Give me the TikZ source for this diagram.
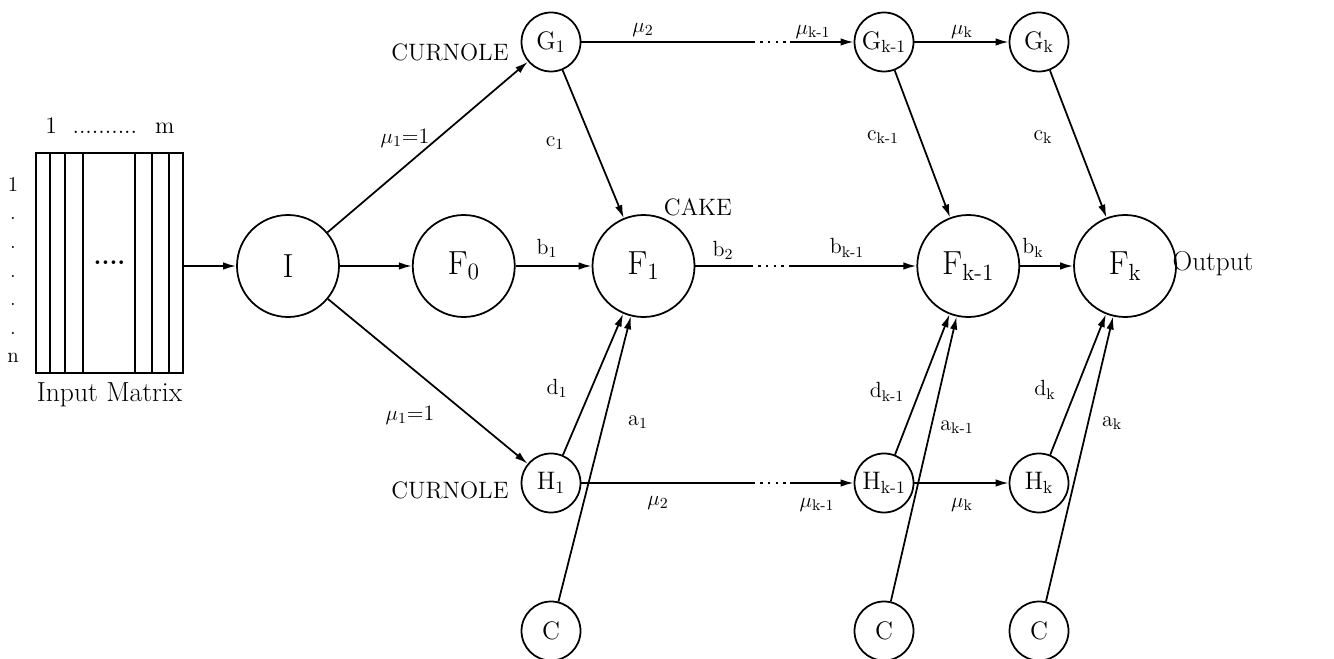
\documentclass[tikz,border=0pt]{standalone}
\usepackage{tikz}
\usetikzlibrary{positioning, arrows.meta}

\begin{document}
\begin{tikzpicture}[
        font=\large,
        >={Latex[length=2.6mm, width=1.5mm]},
        big/.style={
            draw,
            circle,
            line width=1pt,
            inner sep=0pt,
            minimum size=2.04cm,
            font={\fontsize{19}{22}\selectfont}
        },
        small/.style={
            draw,
            circle,
            line width=1pt,
            inner sep=0pt,
            minimum size=1.18cm,
            font=\Large
        },
        lbl/.style={
            inner sep=1pt,
            font={\fontsize{12.5}{15}\selectfont}
        },
        caps/.style={
            font={\fontsize{13.5}{16}\selectfont}
        },
        link/.style={
            ->,
            line width=1pt
        },
        dotrun/.style={
            line width=1.4pt,
            shorten <=3pt,
            dash pattern=on 1.4pt off 3pt
        }
    ]
    \fill[white] (0,0) rectangle (26.68,13.16);
    \useasboundingbox (0,0) rectangle (26.68,13.16);

    % input matrix
    \node[draw, line width=1pt, minimum width=2.94cm, minimum height=4.4cm, inner sep=0pt] (mat) at (2.19,7.90) {\Large\bfseries ....};
    \draw[line width=1pt] (1.00,5.70) -- (1.00,10.10) (1.30,5.70) -- (1.30,10.10) (1.66,5.70) -- (1.66,10.10)
        (2.70,5.70) -- (2.70,10.10) (3.04,5.70) -- (3.04,10.10) (3.38,5.70) -- (3.38,10.10);
    \node[font={\fontsize{13.5}{16}\selectfont}] (cols) at (2.2,10.64) {1 \ .......... \ m};
    \node[align=center, font={\fontsize{12}{16.3}\selectfont}] (rows) at (0.26,7.76) {1\\.\\.\\.\\.\\.\\n};
    \node[below=0.06cm of mat, font={\fontsize{15.7}{18}\selectfont}] (mlabel) {Input Matrix};

    % main row
    \node[big] (I) at (5.76,7.84) {I};
    \node[big, right=1.44cm of I] (F0) {F\textsubscript{0}};
    \node[big, right=1.52cm of F0] (F1) {F\textsubscript{1}};
    \node[big, right=4.42cm of F1] (Fk1) {F\textsubscript{k-1}};
    \node[big, right=1.06cm of Fk1] (Fk) {F\textsubscript{k}};

    % upper and lower rows
    \node[small] (G1) at (11.02,12.32) {G\textsubscript{1}};
    \node[small] (Gk1) at (17.68,12.32) {G\textsubscript{k-1}};
    \node[small] (Gk) at (20.78,12.32) {G\textsubscript{k}};
    \node[small] (H1) at (11.02,3.50) {H\textsubscript{1}};
    \node[small] (Hk1) at (17.68,3.50) {H\textsubscript{k-1}};
    \node[small] (Hk) at (20.78,3.50) {H\textsubscript{k}};
    \node[small] (C1) at (11.02,0.54) {C};
    \node[small] (Ck1) at (17.68,0.54) {C};
    \node[small] (Ck) at (20.78,0.54) {C};

    \node[caps] (curG) at (9.00,12.12) {CURNOLE};
    \node[caps] (curH) at (9.00,3.36) {CURNOLE};
    \node[caps] (cake) at (13.96,9.02) {CAKE};
    \node[font={\fontsize{15.5}{18}\selectfont}] (out) at (24.26,7.88) {Output};

    \coordinate (g1) at (15.10,12.32);
    \coordinate (g2) at (15.80,12.32);
    \coordinate (f1) at (15.06,7.84);
    \coordinate (f2) at (15.80,7.84);
    \coordinate (h1) at (15.10,3.50);
    \coordinate (h2) at (15.80,3.50);

    % edge labels
    \node[lbl] (lmuG) at (8.10,10.40) {$\mu$\textsubscript{1}=1};
    \node[lbl] (lmuH) at (8.20,4.86) {$\mu$\textsubscript{1}=1};
    \node[lbl] (lc1) at (11.10,10.30) {c\textsubscript{1}};
    \node[lbl] (lb1) at (10.94,8.20) {b\textsubscript{1}};
    \node[lbl] (lb2) at (14.46,8.16) {b\textsubscript{2}};
    \node[lbl] (ld1) at (11.14,5.40) {d\textsubscript{1}};
    \node[lbl] (la1) at (12.76,4.72) {a\textsubscript{1}};
    \node[lbl] (lmu2a) at (12.86,12.56) {$\mu$\textsubscript{2}};
    \node[lbl] (lmu2b) at (13.16,3.10) {$\mu$\textsubscript{2}};
    \node[lbl] (lmuk1a) at (16.26,12.52) {$\mu$\textsubscript{k-1}};
    \node[lbl] (lmuk1b) at (16.34,3.06) {$\mu$\textsubscript{k-1}};
    \node[lbl] (lmuka) at (19.24,12.52) {$\mu$\textsubscript{k}};
    \node[lbl] (lmukb) at (19.24,3.06) {$\mu$\textsubscript{k}};
    \node[lbl] (lck1) at (17.66,10.42) {c\textsubscript{k-1}};
    \node[lbl] (lck) at (20.86,10.42) {c\textsubscript{k}};
    \node[lbl] (lbk1) at (16.94,8.20) {b\textsubscript{k-1}};
    \node[lbl] (lbk) at (20.66,8.20) {b\textsubscript{k}};
    \node[lbl] (ldk1) at (17.74,5.32) {d\textsubscript{k-1}};
    \node[lbl] (lak1) at (19.14,4.62) {a\textsubscript{k-1}};
    \node[lbl] (ldk) at (20.90,5.36) {d\textsubscript{k}};
    \node[lbl] (lak) at (22.24,4.70) {a\textsubscript{k}};

    \draw[link] (mat.east |- I) -- (I);
    \draw[link] (I) -- (G1);
    \draw[link] (I) -- (F0);
    \draw[link] (I) -- (H1);
    \draw[link] (F0) -- (F1);
    \draw[link] (G1) -- (F1);
    \draw[link] (H1) -- (F1);
    \draw[link] (C1) -- (F1);

    \draw[line width=1pt] (G1) -- (g1);
    \draw[dotrun] (g1) -- (g2);
    \draw[link] (g2) -- (Gk1);
    \draw[line width=1pt] (F1) -- (f1);
    \draw[dotrun] (f1) -- (f2);
    \draw[link] (f2) -- (Fk1);
    \draw[line width=1pt] (H1) -- (h1);
    \draw[dotrun] (h1) -- (h2);
    \draw[link] (h2) -- (Hk1);

    \draw[link] (Gk1) -- (Gk);
    \draw[link] (Hk1) -- (Hk);
    \draw[link] (Fk1) -- (Fk);
    \draw[link] (Gk1) -- (Fk1);
    \draw[link] (Hk1) -- (Fk1);
    \draw[link] (Ck1) -- (Fk1);
    \draw[link] (Gk) -- (Fk);
    \draw[link] (Hk) -- (Fk);
    \draw[link] (Ck) -- (Fk);
\end{tikzpicture}
\end{document}
